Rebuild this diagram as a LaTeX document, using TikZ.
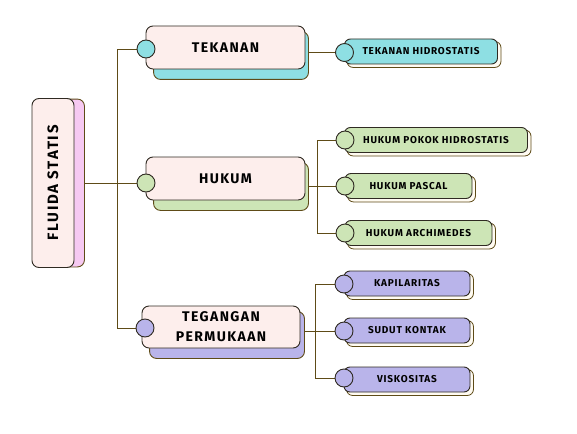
\documentclass[tikz,border=0pt]{standalone}
\usepackage{fontspec}
\usepackage{graphicx}
\setmainfont{Fira Sans}
\definecolor{cyanc}{HTML}{8EDFE3}
\definecolor{greenc}{HTML}{CDE5B6}
\definecolor{purpc}{HTML}{B9B4EA}
\definecolor{pinkf}{HTML}{FDEEEC}
\definecolor{pinkb}{HTML}{F6C9F2}
\definecolor{edgec}{HTML}{2F2A22}
\definecolor{linec}{HTML}{5E4B17}
\definecolor{shadc}{HTML}{FFFBF2}
\pgfdeclarelayer{conn}
\pgfdeclarelayer{back}
\pgfdeclarelayer{front}
\pgfsetlayers{conn,back,main,front}
\tikzset{
  bigbox/.style={draw=edgec, line width=0.9pt, rounded corners=7pt, fill=pinkf,
    minimum width=159pt, minimum height=43pt, inner sep=0pt, align=center,
    font=\fontsize{14}{17}\selectfont\bfseries\addfontfeature{LetterSpace=10}, text=black},
  bigback/.style={draw=linec, line width=0.9pt, rounded corners=7pt},
  smallbox/.style={draw=edgec, line width=0.9pt, rounded corners=6pt,
    minimum height=25pt, inner sep=0pt,
    font=\fontsize{10}{12}\selectfont\bfseries\addfontfeature{LetterSpace=8}, text=black},
  smallshadow/.style={draw=linec, line width=0.8pt, rounded corners=6pt, fill=shadc},
  circ/.style={circle, draw=edgec, line width=0.9pt, minimum size=18pt, inner sep=0pt},
  conn/.style={draw=linec, line width=0.9pt},
}
\begin{document}
\begin{tikzpicture}[x=1pt,y=-1pt]
\useasboundingbox (0,0) rectangle (577,433);

% root
\node[bigbox, minimum width=42pt, minimum height=169pt,
  font=\fontsize{15}{17}\selectfont\bfseries\addfontfeature{LetterSpace=12}] (root) at (53,183)
  {\rotatebox{90}{FLUIDA STATIS}};

% level 1
\node[bigbox] (n1) at (225.5,47.5) {TEKANAN};
\node[bigbox] (n2) at (225.5,178.5) {HUKUM};
\node[bigbox, minimum width=158pt, minimum height=42pt] (n3) at (221,327) {TEGANGAN\\[3pt]PERMUKAAN};

% level 2
\node[smallbox, fill=cyanc, minimum width=153pt] (s1) at (421,51.5) {TEKANAN HIDROSTATIS};
\node[smallbox, fill=greenc, minimum width=183pt] (s2) at (436,140) {HUKUM POKOK HIDROSTATIS};
\node[smallbox, fill=greenc, minimum width=127pt] (s3) at (408.5,186) {HUKUM PASCAL};
\node[smallbox, fill=greenc, minimum width=147pt] (s4) at (418.5,233) {HUKUM ARCHIMEDES};
\node[smallbox, fill=purpc, minimum width=126pt] (s5) at (407,283.5) {KAPILARITAS};
\node[smallbox, fill=purpc, minimum width=126pt] (s6) at (407,330.5) {SUDUT KONTAK};
\node[smallbox, fill=purpc, minimum width=126pt] (s7) at (407,379.5) {VISKOSITAS};

% circles
\begin{pgfonlayer}{front}
\node[circ, fill=cyanc] (c1) at (146,49) {};
\node[circ, fill=greenc] (c2) at (146,183) {};
\node[circ, fill=purpc] (c3) at (145,328) {};
\node[circ, fill=cyanc] (t1) at (344.5,52.5) {};
\node[circ, fill=greenc] (t2) at (345,140) {};
\node[circ, fill=greenc] (t3) at (345,186) {};
\node[circ, fill=greenc] (t4) at (345,233) {};
\node[circ, fill=purpc] (t5) at (344,284) {};
\node[circ, fill=purpc] (t6) at (344,331) {};
\node[circ, fill=purpc] (t7) at (344,378) {};
\end{pgfonlayer}

% back shapes
\begin{pgfonlayer}{back}
\draw[bigback, fill=pinkb] ([xshift=10pt,yshift=-1pt]root.north west) rectangle ([xshift=10pt,yshift=1pt]root.south east);
\draw[bigback, fill=cyanc] ([xshift=8pt,yshift=-6pt]n1.north west) rectangle ([xshift=3pt,yshift=-10pt]n1.south east);
\draw[bigback, fill=greenc] ([xshift=8pt,yshift=-6pt]n2.north west) rectangle ([xshift=3pt,yshift=-10pt]n2.south east);
\draw[bigback, fill=purpc] ([xshift=8pt,yshift=-6pt]n3.north west) rectangle ([xshift=4pt,yshift=-10pt]n3.south east);
\foreach \s in {s1,s2,s3,s4,s5,s6,s7}{
  \draw[smallshadow] ([xshift=3pt,yshift=-3pt]\s.north west) rectangle ([xshift=3pt,yshift=-3pt]\s.south east);
}
\end{pgfonlayer}

% connectors
\begin{pgfonlayer}{conn}
\coordinate (tr) at (117,183);
\coordinate (b2) at (317,186);
\coordinate (b3) at (315,331);
\draw[conn] (root.east) -- (tr);
\draw[conn] (tr) |- (c1);
\draw[conn] (tr) -- (c2);
\draw[conn] (tr) |- (c3);
\draw[conn] (n1.east |- t1) -- (t1);
\draw[conn] (n2.east |- b2) -- (b2);
\draw[conn] (b2) |- (t2);
\draw[conn] (b2) -- (t3);
\draw[conn] (b2) |- (t4);
\draw[conn] (n3.east |- b3) -- (b3);
\draw[conn] (b3) |- (t5);
\draw[conn] (b3) -- (t6);
\draw[conn] (b3) |- (t7);
\end{pgfonlayer}
\end{tikzpicture}
\end{document}
